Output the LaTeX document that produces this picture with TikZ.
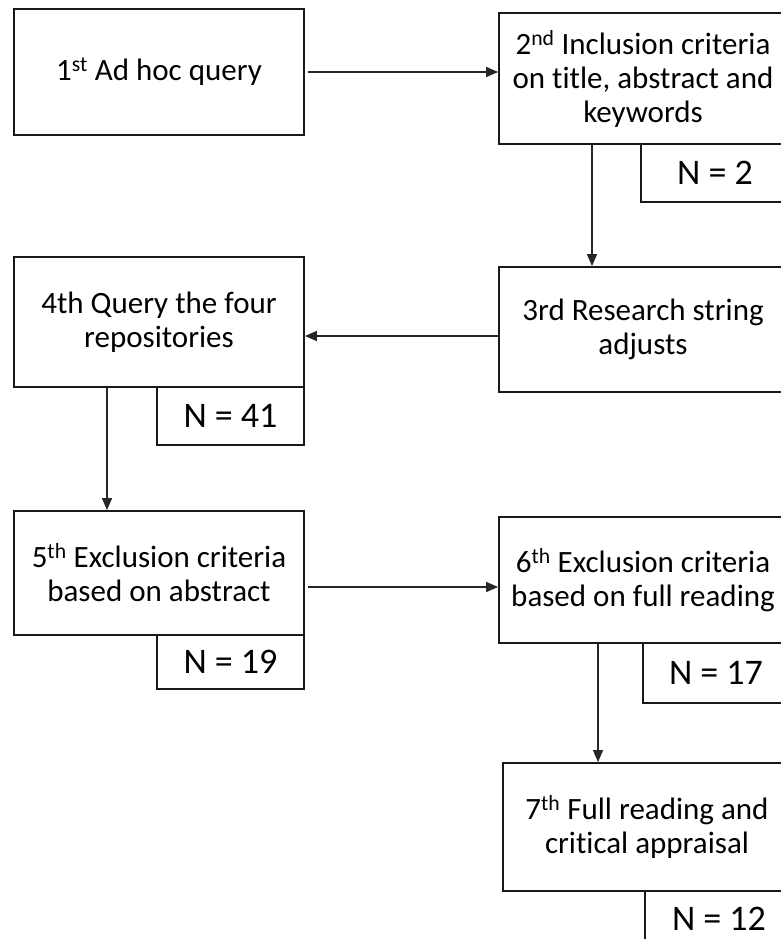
\documentclass[tikz,border=0pt]{standalone}
\usepackage{fontspec}
\setmainfont[Ligatures={NoCommon}]{Carlito}
\usetikzlibrary{arrows.meta}
\tikzset{
  stepbox/.style={draw=black!90, line width=1.8pt, fill=white, align=center, inner sep=0pt,
    font=\fontsize{31}{34}\selectfont},
  nbox/.style={draw=black!90, line width=1.8pt, fill=white, inner sep=0pt,
    font=\fontsize{36}{40}\selectfont},
  conn/.style={draw=black!85, line width=1.3pt, -{Triangle[length=12pt,width=10pt]}}
}
\begin{document}
\begin{tikzpicture}[x=1pt,y=-1pt]
\useasboundingbox (0,0) rectangle (781,939);
\clip (0,0) rectangle (781,939);
\fill[white] (0,0) rectangle (781,939);
% step boxes
\node[stepbox, minimum width=290pt, minimum height=126pt] (b1) at (159,72) {1\textsuperscript{st} Ad hoc query};
\node[stepbox, minimum width=288pt, minimum height=131pt] (b2) at (643,78.5) {2\textsuperscript{nd} Inclusion criteria\\on title, abstract and\\keywords};
\node[nbox, minimum width=148pt, minimum height=58pt] (n2) at (715,173) {N = 2};
\node[stepbox, minimum width=288pt, minimum height=125pt] (b3) at (643,329.5) {3rd Research string\\adjusts};
\node[stepbox, minimum width=290pt, minimum height=130pt] (b4) at (159,322) {4th Query the four\\repositories};
\node[nbox, minimum width=147pt, minimum height=58pt] (n41) at (230.5,416) {N = 41};
\node[stepbox, minimum width=290pt, minimum height=124pt] (b5) at (159,573) {5\textsuperscript{th} Exclusion criteria\\based on abstract};
\node[nbox, minimum width=147pt, minimum height=54pt] (n19) at (230.5,662) {N = 19};
\node[stepbox, minimum width=288pt, minimum height=126pt] (b6) at (643,580) {6\textsuperscript{th} Exclusion criteria\\based on full reading};
\node[nbox, minimum width=146pt, minimum height=60pt] (n17) at (716,673) {N = 17};
\node[stepbox, minimum width=288pt, minimum height=128pt] (b7) at (647,827) {7\textsuperscript{th} Full reading and\\critical appraisal};
\node[nbox, minimum width=148pt, minimum height=56pt] (n12) at (719,919) {N = 12};
% connector guide coordinates
\coordinate (y12) at (0,72);
\coordinate (x23) at (592,0);
\coordinate (y34) at (0,336);
\coordinate (x45) at (107,0);
\coordinate (y56) at (0,587);
\coordinate (x67) at (598,0);
% connectors
\draw[conn] ([xshift=3pt]b1.east |- y12) -- (b2.west |- y12);
\draw[conn] (x23 |- b2.south) -- (x23 |- b3.north);
\draw[conn] (b3.west |- y34) -- (b4.east |- y34);
\draw[conn] (x45 |- b4.south) -- (x45 |- b5.north);
\draw[conn] ([xshift=3pt]b5.east |- y56) -- (b6.west |- y56);
\draw[conn] (x67 |- b6.south) -- (x67 |- b7.north);
\end{tikzpicture}
\end{document}
